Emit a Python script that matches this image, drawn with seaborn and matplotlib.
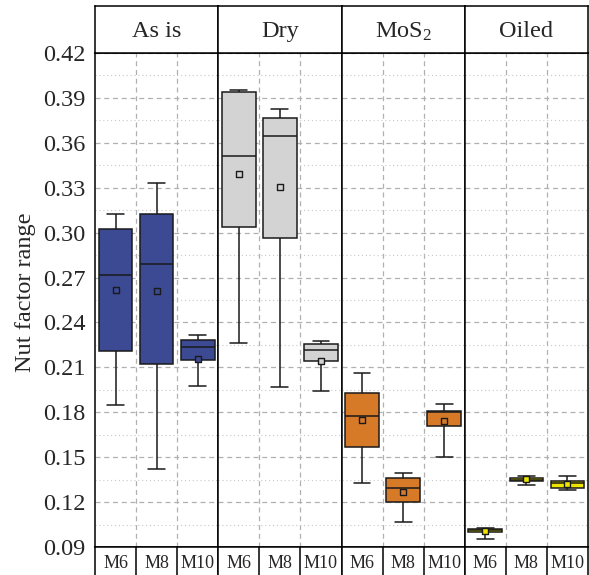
import numpy as np
import pandas as pd
import matplotlib
matplotlib.use("Agg")
import matplotlib.pyplot as plt
import seaborn as sns
from matplotlib.ticker import MultipleLocator

# ---------------- data ----------------
conditions = ["As is", "Dry", "MoS$_2$", "Oiled"]
sizes = ["M6", "M8", "M10"]
colors = ["#3c4993", "#d3d3d3", "#d77a28", "#ede500"]

whisker_low = [[0.185, 0.142, 0.1975],
               [0.226, 0.197, 0.1944],
               [0.1325, 0.107, 0.150],
               [0.0956, 0.1315, 0.1283]]
q1 = [[0.2211, 0.2120, 0.2149],
      [0.304, 0.2966, 0.2142],
      [0.157, 0.1201, 0.1706],
      [0.1000, 0.1339, 0.1296]]
median = [[0.2719, 0.2789, 0.2238],
          [0.3510, 0.3648, 0.2216],
          [0.1777, 0.1294, 0.1802],
          [0.1012, 0.1350, 0.1330]]
q3 = [[0.3024, 0.3124, 0.2283],
      [0.3940, 0.3766, 0.2256],
      [0.1929, 0.1361, 0.1808],
      [0.1020, 0.1359, 0.1339]]
whisker_high = [[0.3125, 0.333, 0.2316],
                [0.3951, 0.3826, 0.2276],
                [0.206, 0.1396, 0.1853],
                [0.1029, 0.1376, 0.1372]]
mean = [[0.2619, 0.2612, 0.2158],
        [0.339, 0.3307, 0.2144],
        [0.1748, 0.1269, 0.1744],
        [0.1007, 0.1352, 0.1319]]

ticks_y = [0.09, 0.12, 0.15, 0.18, 0.21, 0.24, 0.27, 0.30, 0.33, 0.36, 0.39, 0.42]

# ---------------- style ----------------
sns.set_style("white")
plt.rcParams["font.family"] = ["Liberation Serif", "DejaVu Serif"]
plt.rcParams["mathtext.fontset"] = "custom"
plt.rcParams["mathtext.rm"] = "Liberation Serif"
plt.rcParams["mathtext.it"] = "Liberation Serif:italic"

W, H = 589, 575
fig = plt.figure(figsize=(W / 100, H / 100), dpi=100)

left_px, right_px = 95, 588
top_strip, top_plot, bot_plot = 6, 53, 547
pw = (right_px - left_px) / 4


def fx(px):
    return px / W


def fy(py):
    return 1 - py / H


edge = "#1a1a1a"
for i, cond in enumerate(conditions):
    x0 = left_px + i * pw
    # main panel
    ax = fig.add_axes([fx(x0), fy(bot_plot), fx(pw), (bot_plot - top_plot) / H])
    rows = []
    for j, s in enumerate(sizes):
        for v in (whisker_low[i][j], q1[i][j], median[i][j], q3[i][j], whisker_high[i][j]):
            rows.append({"size": s, "value": v})
    df = pd.DataFrame(rows)
    sns.boxplot(data=df, x="size", y="value", order=sizes, color=colors[i],
                whis=(0, 100), width=0.82, linecolor=edge, linewidth=1.1,
                saturation=1, ax=ax)
    dm = pd.DataFrame({"size": sizes, "mean": mean[i]})
    sns.stripplot(data=dm, x="size", y="mean", order=sizes, jitter=False,
                  marker="s", size=5, color=colors[i], edgecolor=edge,
                  linewidth=1.0, ax=ax, zorder=5)
    ax.set_xlim(-0.5, 2.5)
    ax.set_ylim(0.09, 0.42)
    ax.set_yticks(ticks_y)
    ax.yaxis.set_minor_locator(MultipleLocator(0.015))
    ax.set_xticks([0.5, 1.5], minor=True)
    ax.set_xticks([])
    ax.grid(which="major", axis="y", color="#b0b0b0", ls=(0, (4, 3)), lw=0.9)
    ax.grid(which="minor", axis="y", color="#c8c8c8", ls=(0, (1, 2.5)), lw=0.8)
    ax.grid(which="minor", axis="x", color="#b0b0b0", ls=(0, (4, 3)), lw=0.9)
    ax.set_axisbelow(True)
    ax.tick_params(which="both", length=0)
    ax.set_xlabel("")
    ax.set_ylabel("")
    if i == 0:
        ax.set_yticklabels([f"{t:.2f}" for t in ticks_y], fontsize=17.5)
        ax.tick_params(axis="y", pad=7)
    else:
        ax.set_yticklabels([])
    for sp in ax.spines.values():
        sp.set_visible(True)
        sp.set_color("black")
        sp.set_linewidth(1.1)

    # strip on top
    sa = fig.add_axes([fx(x0), fy(top_plot), fx(pw), (top_plot - top_strip) / H])
    sa.set_xticks([])
    sa.set_yticks([])
    for sp in sa.spines.values():
        sp.set_color("black")
        sp.set_linewidth(1.1)
    sa.text(0.5, 0.46, cond, ha="center", va="center", fontsize=17.5,
            transform=sa.transAxes)

    # bottom label cells
    ba = fig.add_axes([fx(x0), fy(H + 10), fx(pw), (H + 10 - bot_plot) / H])
    ba.set_xlim(-0.5, 2.5)
    ba.set_ylim(0, 1)
    ba.set_xticks([])
    ba.set_yticks([])
    for sp in ba.spines.values():
        sp.set_color("black")
        sp.set_linewidth(1.1)
    for b in (0.5, 1.5):
        ba.axvline(b, color="black", lw=1.1)
    for j, s in enumerate(sizes):
        ba.text(j, 1 - (563 - bot_plot) / (H + 10 - bot_plot), s, ha="center",
                va="center", fontsize=13)

fig.text(fx(26), fy(292), "Nut factor range", rotation=90, ha="center",
         va="center", fontsize=17.5)

fig.savefig("out.png", dpi=100)
